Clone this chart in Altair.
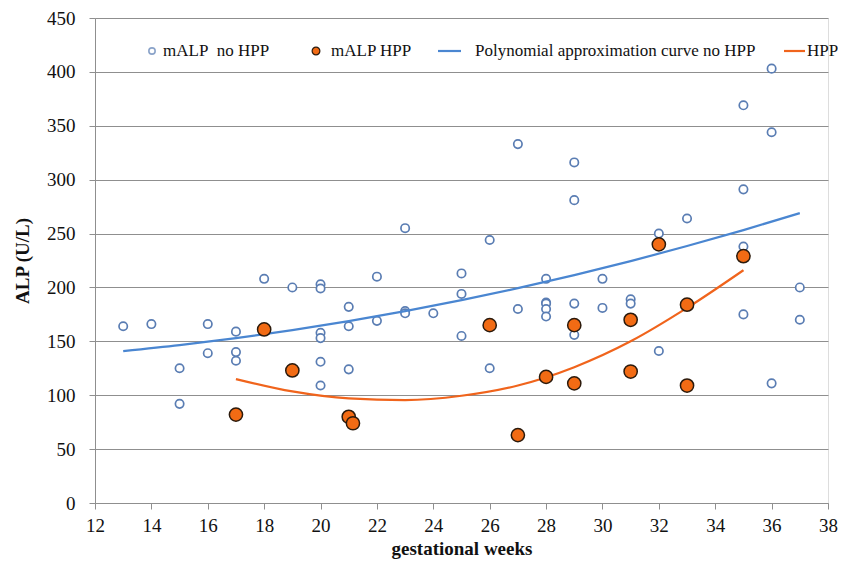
import altair as alt
import pandas as pd

# ---- data ----
no_hpp_weeks = [13, 14, 15, 15, 16, 16, 17, 17, 17, 18, 19,
                20, 20, 20, 20, 20, 20, 21, 21, 21, 22, 22,
                23, 23, 23, 24, 25, 25, 25, 26, 26, 27, 27,
                28, 28, 28, 28, 28, 29, 29, 29, 29, 30, 30,
                31, 31, 32, 32, 33, 35, 35, 35, 35, 36, 36, 36, 37, 37]
no_hpp_alp = [164, 166, 125, 92, 166, 139, 159, 140, 132, 208, 200,
              203, 199, 158, 153, 131, 109, 182, 164, 124, 210, 169,
              255, 178, 176, 176, 213, 194, 155, 244, 125, 333, 180,
              208, 186, 185, 180, 173, 316, 281, 185, 156, 208, 181,
              189, 185, 250, 141, 264, 369, 291, 238, 175, 403, 344, 111, 200, 170]

hpp_weeks = [17, 18, 19, 21, 21.15, 26, 27, 28, 29, 29, 31, 31, 32, 33, 33, 35]
hpp_alp = [82, 161, 123, 80, 74, 165, 63, 117, 165, 111, 170, 122, 240, 184, 109, 229]

# approximation curves, values at these weeks
curve_no_weeks = [13, 15, 17, 19, 21, 23, 25, 27, 29, 31, 33, 35, 37]
curve_no_alp = [141, 146.5, 153, 160.4, 168.7, 178, 188.2, 199.3, 211.4, 224.4, 238.4, 253.2, 269]
curve_h_weeks = [17, 19, 21, 23, 25, 27, 29, 31, 33, 35]
curve_h_alp = [115, 103.5, 97, 95.5, 99.5, 109, 126, 150, 181, 216]

x_ticks = list(range(12, 39, 2))
y_ticks = list(range(0, 451, 50))

legend_labels = ["mALP\u00a0 no HPP", "mALP HPP",
                 "Polynomial approximation curve no HPP", "HPP"]

# ---- styling ----
SERIF = "Liberation Serif, Times New Roman, Times, DejaVu Serif, serif"
BLUE_PT = "#5a7db3"
BLUE_LN = "#4a86d1"
ORANGE = "#f26b14"
ORANGE_LN = "#f0641c"
DARK = "#2b1a0c"
GRID = "#8f8f8f"

df_no = pd.DataFrame({"week": no_hpp_weeks, "alp": no_hpp_alp})
df_h = pd.DataFrame({"week": hpp_weeks, "alp": hpp_alp})
df_cno = pd.DataFrame({"week": curve_no_weeks, "alp": curve_no_alp})
df_ch = pd.DataFrame({"week": curve_h_weeks, "alp": curve_h_alp})

xs = alt.Scale(domain=[12, 38], nice=False, zero=False)
ys = alt.Scale(domain=[0, 450], nice=False)

x_enc = alt.X("week:Q", scale=xs,
              axis=alt.Axis(title="gestational weeks", values=x_ticks, grid=False,
                            labelFontSize=19, titleFontSize=19, titleFontWeight="bold",
                            labelFont=SERIF, titleFont=SERIF, labelColor="#111", titleColor="#111",
                            domainColor=GRID, tickColor=GRID, tickSize=6, labelPadding=7,
                            titlePadding=4, labelFlush=False))
y_enc = alt.Y("alp:Q", scale=ys,
              axis=alt.Axis(title="ALP (U/L)", values=y_ticks, grid=True, gridColor=GRID,
                            gridWidth=1.2, labelFontSize=19, titleFontSize=19,
                            titleFontWeight="bold", labelFont=SERIF, titleFont=SERIF,
                            labelColor="#111", titleColor="#111",
                            domainColor=GRID, tickColor=GRID, tickSize=6, labelPadding=14,
                            titlePadding=14))

pts_no = alt.Chart(df_no).mark_point(shape="circle", filled=False, size=70,
                                     stroke=BLUE_PT, strokeWidth=1.7, fill="white",
                                     fillOpacity=1, opacity=1).encode(x=x_enc, y=y_enc)

line_no = alt.Chart(df_cno).mark_line(color=BLUE_LN, strokeWidth=2.2,
                                      interpolate="monotone").encode(x=x_enc, y=y_enc)

line_h = alt.Chart(df_ch).mark_line(color=ORANGE_LN, strokeWidth=2.2,
                                    interpolate="monotone").encode(x=x_enc, y=y_enc)

pts_h = alt.Chart(df_h).mark_point(shape="circle", filled=True, size=175,
                                   fill=ORANGE, stroke=DARK, strokeWidth=1.5,
                                   opacity=1).encode(x=x_enc, y=y_enc)

# ---- legend (drawn inside the plot, top) ----
one = alt.Data(values=[{"k": 1}])
LY = 33
leg_fs = 17
leg = [
    alt.Chart(one).mark_point(shape="circle", filled=False, size=40, stroke=BLUE_PT,
                              strokeWidth=1.6).encode(x=alt.value(57), y=alt.value(LY)),
    alt.Chart(one).mark_text(text=legend_labels[0], align="left", baseline="middle",
                             font=SERIF, fontSize=leg_fs, color="#111"
                             ).encode(x=alt.value(68), y=alt.value(LY)),
    alt.Chart(one).mark_point(shape="circle", filled=True, size=60, fill=ORANGE,
                              stroke=DARK, strokeWidth=1.2, opacity=1
                              ).encode(x=alt.value(221), y=alt.value(LY)),
    alt.Chart(one).mark_text(text=legend_labels[1], align="left", baseline="middle",
                             font=SERIF, fontSize=leg_fs, color="#111"
                             ).encode(x=alt.value(236), y=alt.value(LY)),
    alt.Chart(one).mark_rule(color=BLUE_LN, strokeWidth=2.2).encode(
        x=alt.value(343), x2=alt.value(366), y=alt.value(LY)),
    alt.Chart(one).mark_text(text=legend_labels[2], align="left", baseline="middle",
                             font=SERIF, fontSize=leg_fs, color="#111"
                             ).encode(x=alt.value(380), y=alt.value(LY)),
    alt.Chart(one).mark_rule(color=ORANGE_LN, strokeWidth=2.2).encode(
        x=alt.value(689), x2=alt.value(710), y=alt.value(LY)),
    alt.Chart(one).mark_text(text=legend_labels[3], align="left", baseline="middle",
                             font=SERIF, fontSize=leg_fs, color="#111"
                             ).encode(x=alt.value(712), y=alt.value(LY)),
]

chart = alt.layer(pts_no, line_no, line_h, pts_h, *leg).properties(
    width=733, height=485,
    autosize=alt.AutoSizeParams(type="none"),
    padding={"left": 87, "top": 10, "right": 10, "bottom": 58},
    background="white",
).configure_view(stroke=None).configure_axis(
    labelFont=SERIF, titleFont=SERIF
).configure(font=SERIF)

chart.save("out.html", embed_options={"renderer": "svg", "actions": False})
